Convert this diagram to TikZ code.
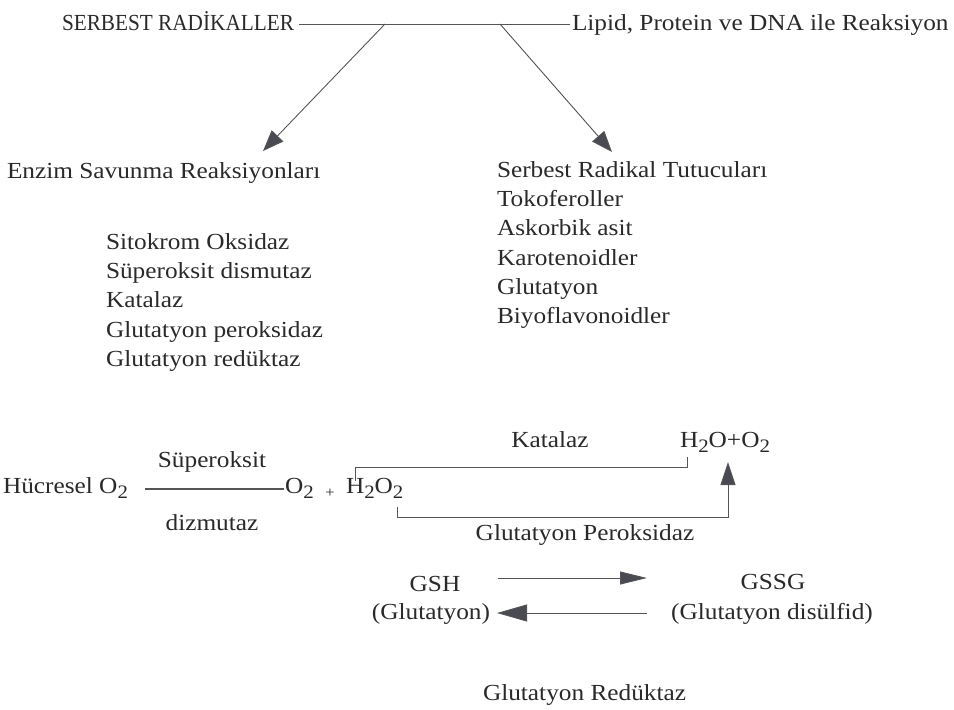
\documentclass[tikz,border=0pt]{standalone}
\usepackage{fontspec}
\setmainfont{Liberation Serif}[FakeStretch=1.1]
\usetikzlibrary{arrows.meta}
\newcommand\subtwo{\raisebox{-0.5ex}{\fontsize{19}{19}\selectfont 2}}
\definecolor{inkc}{HTML}{2A2A2A}
\definecolor{linec}{HTML}{555555}
\definecolor{headc}{HTML}{4A4A52}
\begin{document}
\begin{tikzpicture}[x=1pt,y=-1pt,
  txt/.style={inner sep=0pt, outer sep=0pt, text=inkc, font=\fontsize{23}{28}\selectfont},
  conn/.style={draw=linec, line width=0.9pt},
  bighead/.style={-{Triangle[length=21pt,width=16pt,fill=headc]}},
  longhead/.style={-{Triangle[length=27pt,width=13pt,fill=headc]}},
  revhead/.style={-{Triangle[length=30pt,width=17pt,fill=headc]}},
]
\useasboundingbox (0,0) rectangle (954,710);
\fill[white] (0,0) rectangle (954,710);

% top
\node[txt, anchor=base west] (sr) at (62,30) {\scalebox{0.84}[1]{SERBEST RADİKALLER}};
\node[txt, anchor=base west] (lip) at (572,30) {Lipid, Protein ve DNA ile Reaksiyon};
\coordinate (la) at (299,24);
\coordinate (lb) at (570,24);
\coordinate (bl) at (385,24);
\coordinate (br) at (500,24);
\coordinate (tl) at (263,151);
\coordinate (tr) at (612,152);
\draw[conn] (la) -- (lb);
\draw[conn, bighead] (bl) -- (tl);
\draw[conn, bighead] (br) -- (tr);

% middle lists
\node[txt, anchor=base west] (enz) at (7,178) {Enzim Savunma Reaksiyonları};
\node[txt, anchor=base west] (e1) at (106,249) {Sitokrom Oksidaz};
\node[txt, anchor=base west] (e2) at (106,278.3) {Süperoksit dismutaz};
\node[txt, anchor=base west] (e3) at (106,307.6) {Katalaz};
\node[txt, anchor=base west] (e4) at (106,337) {Glutatyon peroksidaz};
\node[txt, anchor=base west] (e5) at (106,366) {Glutatyon redüktaz};

\node[txt, anchor=base west] (r0) at (497,177) {Serbest Radikal Tutucuları};
\node[txt, anchor=base west] (r1) at (497,206.3) {Tokoferoller};
\node[txt, anchor=base west] (r2) at (497,235.6) {Askorbik asit};
\node[txt, anchor=base west] (r3) at (497,265) {Karotenoidler};
\node[txt, anchor=base west] (r4) at (497,294.3) {Glutatyon};
\node[txt, anchor=base west] (r5) at (497,323.6) {Biyoflavonoidler};

% reaction
\node[txt, anchor=base west] (hc) at (3,493) {Hücresel O\subtwo};
\node[txt, anchor=base] (sup) at (212,467) {Süperoksit};
\node[txt, anchor=base] (diz) at (212,530) {dizmutaz};
\coordinate (sa) at (145,489);
\coordinate (sb) at (284,489);
\draw[conn, line width=1.3pt] (sa) -- (sb);
\node[txt, anchor=base west] (o2) at (285,493) {O\subtwo};
\node[txt, anchor=base] (plus) at (330,497) {\fontsize{15}{15}\selectfont +};
\node[txt, anchor=base west] (h2o2) at (346,493) {H\subtwo O\subtwo};
\node[txt, anchor=base] (kat) at (550,447) {Katalaz};
\node[txt, anchor=base west] (prod) at (680,447) {H\subtwo O+O\subtwo};
\node[txt, anchor=base] (gpx) at (585,540) {Glutatyon Peroksidaz};

\coordinate (k1) at (355,481);
\coordinate (k2) at (355,467);
\coordinate (k3) at (687,467);
\coordinate (k4) at (687,457);
\draw[conn] (k1) -- (k2) -- (k3) -- (k4);

\coordinate (p1) at (397,507);
\coordinate (p2) at (397,517);
\coordinate (p3) at (728,517);
\coordinate (p4) at (728,462);
\draw[conn, -{Triangle[length=23pt,width=15pt,fill=headc]}] (p1) -- (p2) -- (p3) -- (p4);

% glutathione cycle
\node[txt, anchor=base] (gsh) at (435,591) {GSH};
\node[txt, anchor=base] (gssg) at (773,589) {GSSG};
\node[txt, anchor=base] (glu) at (431,619) {(Glutatyon)};
\node[txt, anchor=base] (gdis) at (772,619) {(Glutatyon disülfid)};
\coordinate (g1) at (498,578);
\coordinate (g2) at (647,578);
\draw[conn, longhead] (g1) -- (g2);
\coordinate (g3) at (647,613);
\coordinate (g4) at (497,613);
\draw[conn, revhead] (g3) -- (g4);
\node[txt, anchor=base west] (red) at (483,700) {Glutatyon Redüktaz};
\end{tikzpicture}
\end{document}
